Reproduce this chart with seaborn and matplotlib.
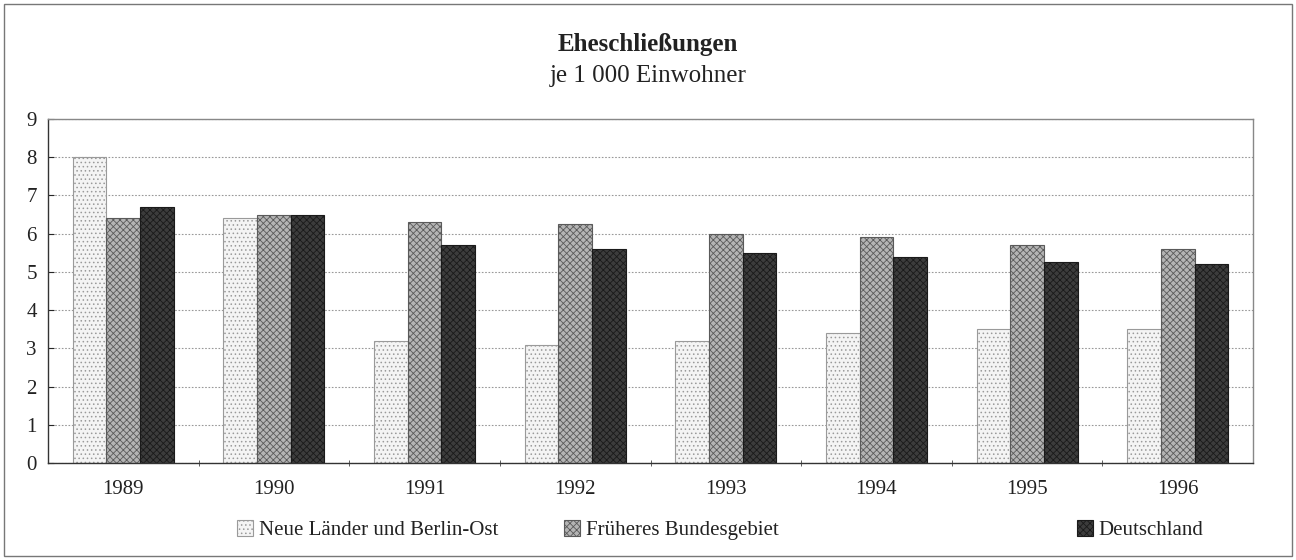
import numpy as np
import pandas as pd
import matplotlib
matplotlib.use("Agg")
import matplotlib.pyplot as plt
import matplotlib.patches as mpatches
import seaborn as sns

years = ["1989", "1990", "1991", "1992", "1993", "1994", "1995", "1996"]
neue_laender = [8.0, 6.4, 3.2, 3.1, 3.2, 3.4, 3.5, 3.5]
frueheres_gebiet = [6.4, 6.5, 6.3, 6.25, 6.0, 5.9, 5.7, 5.6]
deutschland = [6.7, 6.5, 5.7, 5.6, 5.5, 5.4, 5.25, 5.2]
series_names = ["Neue Länder und Berlin-Ost", "Früheres Bundesgebiet", "Deutschland"]

df = pd.DataFrame({
    "Jahr": years * 3,
    "Wert": neue_laender + frueheres_gebiet + deutschland,
    "Gebiet": [series_names[0]] * 8 + [series_names[1]] * 8 + [series_names[2]] * 8,
})

sns.set_style("white")
plt.rcParams["font.family"] = ["Liberation Serif", "DejaVu Serif"]
plt.rcParams["hatch.linewidth"] = 0.6

fig = plt.figure(figsize=(12.96, 5.6), dpi=100)
ax = fig.add_axes([48 / 1296, 97 / 560, 1205 / 1296, 344 / 560])

faces = ["#f4f4f4", "#b4b4b4", "#3c3c3c"]
hatches = ["....", "xxxxx", "xxxxx"]
hatch_edges = ["#9a9a9a", "#5a5a5a", "#1a1a1a"]

sns.barplot(data=df, x="Jahr", y="Wert", hue="Gebiet", hue_order=series_names,
            palette=faces, width=0.67, ax=ax, legend=False, saturation=1)

for cont, fc, h, ec in zip(ax.containers, faces, hatches, hatch_edges):
    for bar in cont:
        bar.set_facecolor(fc)
        bar.set_hatch(h)
        bar.set_edgecolor(ec)
        bar.set_linewidth(0.8)

ax.set_ylim(0, 9)
ax.set_xlim(-0.5, 7.5)
ax.set_yticks(range(10))
ax.yaxis.grid(True, linestyle=(0, (1.5, 1.5)), color="#999999", linewidth=0.8)
ax.set_axisbelow(True)
ax.set_xlabel("")
ax.set_ylabel("")
ax.tick_params(axis="y", labelsize=15, length=4, left=True, direction="in", pad=8, labelcolor="#222222")
ax.tick_params(axis="x", labelsize=15, length=0, pad=12, labelcolor="#222222")
ax.set_xticks(np.arange(0.5, 7.5, 1.0), minor=True)
ax.tick_params(axis="x", which="minor", length=5, bottom=True, direction="inout", color="#444444")
for side in ["left", "bottom"]:
    ax.spines[side].set_color("#333333")
    ax.spines[side].set_linewidth(1.0)
for side in ["top", "right"]:
    ax.spines[side].set_color("#888888")
    ax.spines[side].set_linewidth(1.0)

fig.text(0.5, 1 - 45 / 560, "Eheschließungen", ha="center", va="center", fontsize=18, fontweight="bold", color="#222222")
fig.text(0.5, 1 - 76 / 560, "je 1 000 Einwohner", ha="center", va="center", fontsize=18, color="#222222")

legend_x = [218 / 1296, 545 / 1296, 1058 / 1296]
for name, fc, h, ec, lx in zip(series_names, faces, hatches, hatch_edges, legend_x):
    handle = mpatches.Patch(facecolor=fc, hatch=h, edgecolor=ec, linewidth=0.8, label=name)
    fig.legend(handles=[handle], loc="center left", bbox_to_anchor=(lx, 1 - 530 / 560),
               frameon=False, fontsize=15, handlelength=0.8, handleheight=0.8, handletextpad=0.25,
               labelcolor="#222222")

frame = mpatches.Rectangle((4 / 1296, 4 / 560), 1288 / 1296, 552 / 560, transform=fig.transFigure,
                           fill=False, edgecolor="#777777", linewidth=1.0)
fig.patches.append(frame)

fig.savefig("out.png", dpi=100)
